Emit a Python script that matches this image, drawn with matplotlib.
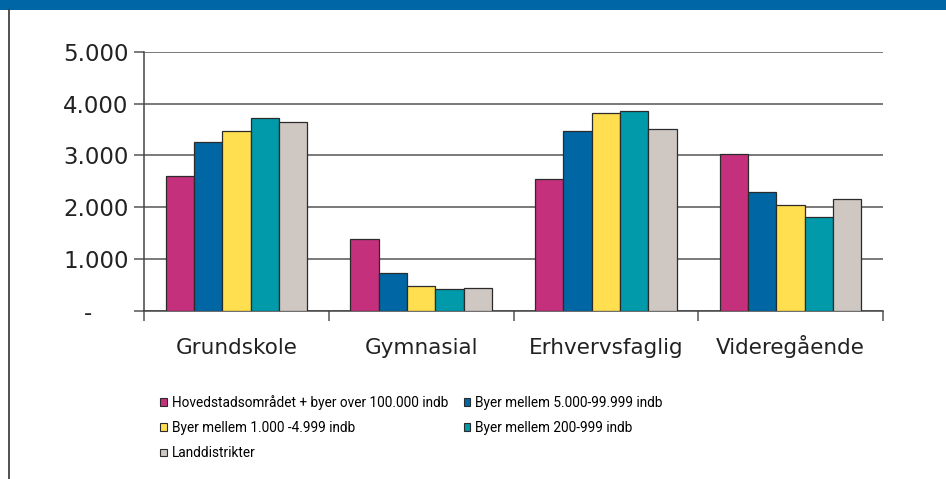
import matplotlib
matplotlib.use("Agg")
import matplotlib.pyplot as plt
import numpy as np
from matplotlib.patches import Rectangle, Patch
from matplotlib.lines import Line2D

# uddannelsesniveauer
kategorier = ["Grundskole", "Gymnasial", "Erhvervsfaglig", "Videregående"]

serier = [
    "Hovedstadsområdet + byer over 100.000 indb",
    "Byer mellem 5.000-99.999 indb",
    "Byer mellem 1.000 -4.999 indb",
    "Byer mellem 200-999 indb",
    "Landdistrikter",
]

hovedstad = [2610, 1380, 2540, 3020]
byer_5000 = [3270, 720, 3475, 2290]
byer_1000 = [3475, 480, 3825, 2050]
byer_200 = [3715, 415, 3855, 1810]
land = [3650, 445, 3510, 2155]

farver = ["#C4307C", "#0066A4", "#FFDE4F", "#009AAA", "#CFC7C2"]

y_ticks = [0, 1000, 2000, 3000, 4000, 5000]
y_labels = ["-     ", "1.000", "2.000", "3.000", "4.000", "5.000"]

fig = plt.figure(figsize=(9.46, 4.79), dpi=100)
ax = fig.add_axes([144 / 946, 1 - 310.7 / 479, (883 - 144) / 946, (310.7 - 52) / 479])

vaerdier = [hovedstad, byer_5000, byer_1000, byer_200, land]
x = np.arange(len(kategorier))
bredde = 0.153
for i, (navn, v) in enumerate(zip(serier, vaerdier)):
    ax.bar(x + (i - 2) * bredde, v, width=bredde, color=farver[i],
           edgecolor="#2b2b2b", linewidth=0.9, label=navn, zorder=3)

ax.set_xlim(-0.5, len(kategorier) - 0.5)
ax.set_ylim(0, 5000)
ax.set_yticks(y_ticks)
ax.set_yticklabels(y_labels, fontsize=16.5, color="#222222")
ax.yaxis.grid(True, color="#555555", linewidth=1.1, zorder=0)
ax.set_axisbelow(True)

ax.set_xticks(x)
ax.set_xticklabels(kategorier, fontsize=15.5, color="#222222")
for t in ax.get_xticklabels():
    t.set_verticalalignment("baseline")
ax.set_xticks(np.arange(len(kategorier) + 1) - 0.5, minor=True)
ax.tick_params(axis="x", which="major", length=0, pad=31)
ax.tick_params(axis="x", which="minor", length=7, width=1.1, color="#555555")
ax.tick_params(axis="y", length=7, width=1.1, color="#555555", pad=4)

for s in ["top", "right"]:
    ax.spines[s].set_visible(False)
for s in ["left", "bottom"]:
    ax.spines[s].set_color("#444444")
    ax.spines[s].set_linewidth(1.1)

# legende (raekkevis som i originalen)
handles = [Patch(facecolor=farver[i], edgecolor="#2b2b2b", linewidth=0.8) for i in range(5)]
orden = [0, 2, 4, 1, 3]
fig.legend([handles[i] for i in orden], [serier[i] for i in orden],
           loc="upper left", bbox_to_anchor=(160 / 946, 1 - 395 / 479),
           ncol=2, frameon=False, borderpad=0, borderaxespad=0,
           handlelength=0.5, handleheight=0.5, handletextpad=0.35,
           columnspacing=1.15, labelspacing=0.82,
           prop={"family": ["Roboto", "DejaVu Sans"], "size": 9.8})

# blaa banner og ramme
fig.patches.append(Rectangle((0, 1 - 10 / 479), 1, 10 / 479, transform=fig.transFigure,
                             facecolor="#0066A5", edgecolor="none"))
fig.lines.append(Line2D([9 / 946, 9 / 946], [0, 1 - 10 / 479], transform=fig.transFigure,
                        color="#333333", linewidth=1.2))

plt.savefig("out.png", dpi=100)
plt.close()
